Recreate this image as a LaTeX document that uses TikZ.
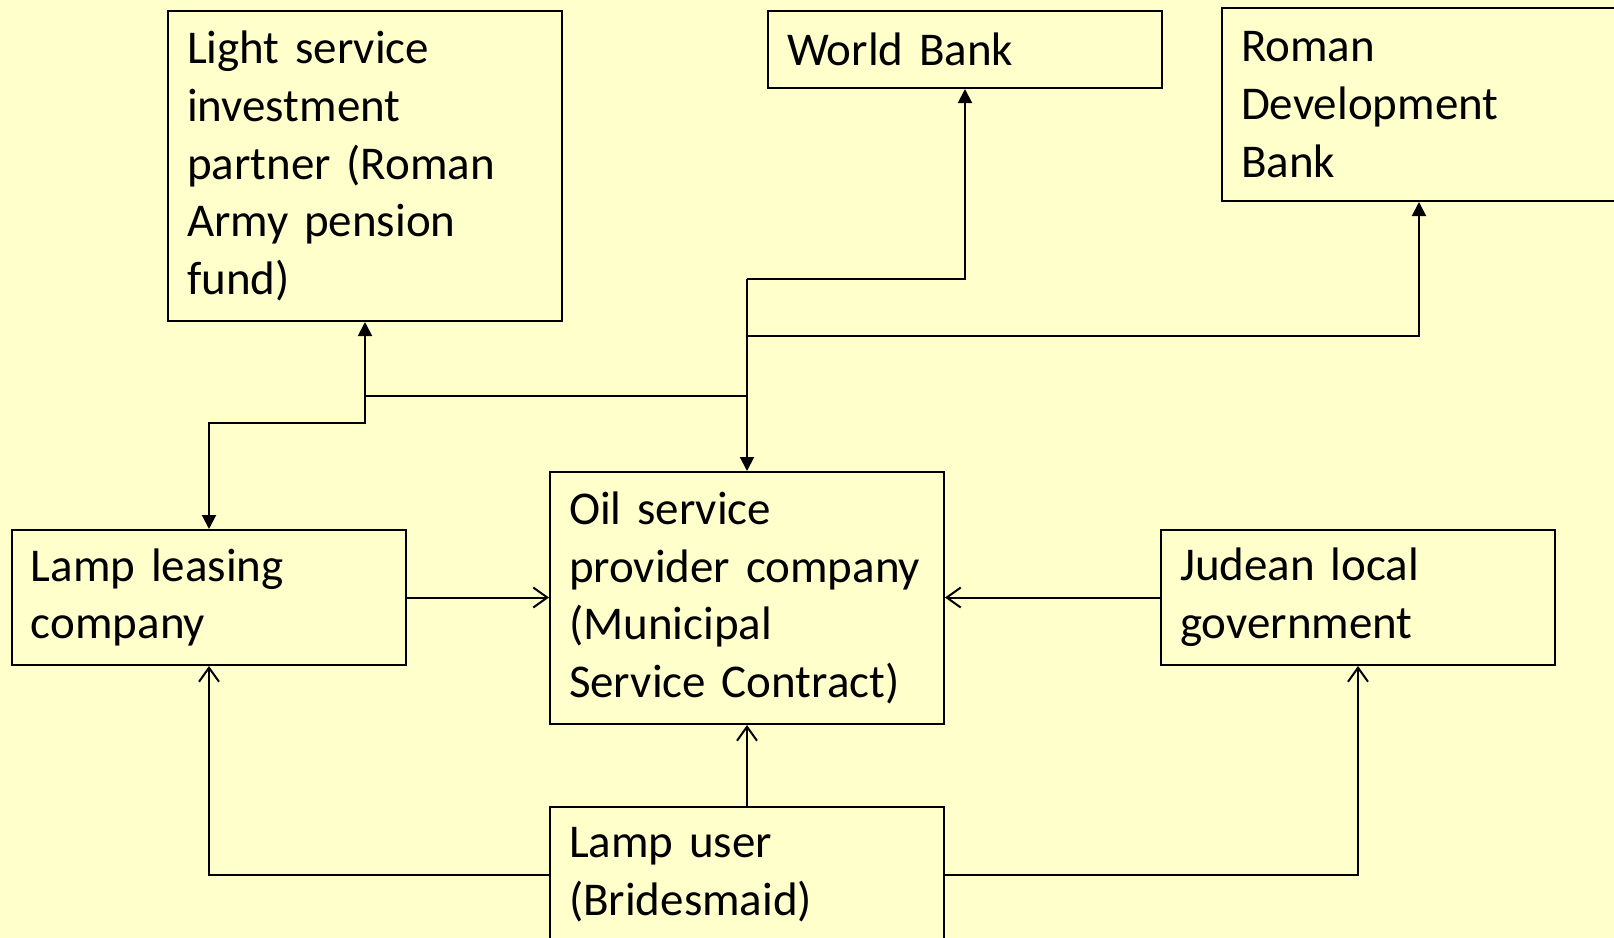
\documentclass[tikz,border=0pt]{standalone}
\usepackage{fontspec}
\setmainfont{Carlito}
\usetikzlibrary{arrows.meta}
\definecolor{bg}{HTML}{FFFFCC}
\begin{document}
\begin{tikzpicture}[x=0.5pt,y=-0.5pt,
  box/.style={draw=black, line width=1pt, fill=bg, anchor=north west,
    minimum width=197pt, text width=178pt, inner xsep=9.5pt, inner ysep=2pt,
    align=left, font=\fontsize{23.5}{28.8}\selectfont},
  fl/.style={line width=1pt, -{Triangle[length=7pt,width=7pt]}},
  op/.style={line width=1pt, -{Straight Barb[length=7pt,width=10pt]}}]
\useasboundingbox[fill=bg] (0,0) rectangle (1614,938);

\node[box, minimum height=155pt] (L) at (167,10)
  {\mbox{Light service}\\ \mbox{investment}\\ \mbox{partner (Roman}\\ \mbox{Army pension}\\ \mbox{fund)}};
\node[box, minimum height=38.5pt] (W) at (767,10) {\mbox{World Bank}};
\node[box, minimum height=96.5pt] (R) at (1221,7) {\mbox{Roman}\\ \mbox{Development}\\ \mbox{Bank}};
\node[box, minimum height=67.5pt] (LL) at (11,529) {\mbox{Lamp leasing}\\ \mbox{company}};
\node[box, minimum height=126pt] (O) at (549,471)
  {\mbox{Oil service}\\ \mbox{provider company}\\ \mbox{(Municipal}\\ \mbox{Service Contract)}};
\node[box, minimum height=67.5pt] (J) at (1160,529) {\mbox{Judean local}\\ \mbox{government}};
\node[box, minimum height=67.5pt] (U) at (549,806) {\mbox{Lamp user}\\ \mbox{(Bridesmaid)}};

\coordinate (t1) at (O.north |- 0,279);
\coordinate (t2) at (O.north |- 0,336);
\coordinate (t3) at (O.north |- 0,396);
\coordinate (t4) at (L.south |- 0,396);
\coordinate (t5) at (L.south |- 0,423);

\draw[fl] (t1) -- (O.north);
\draw[fl] (t1) -| (W.south);
\draw[fl] (t2) -| (R.south);
\draw[fl] (t3) -| (L.south);
\draw[fl] (t4) -- (t5) -| (LL.north);

\draw[op] (LL.east) -- (LL.east -| O.west);
\draw[op] (J.west) -- (J.west -| O.east);
\draw[op] (U.north) -- (O.south);
\draw[op] (U.west) -| (LL.south);
\draw[op] (U.east) -| (J.south);
\end{tikzpicture}
\end{document}
